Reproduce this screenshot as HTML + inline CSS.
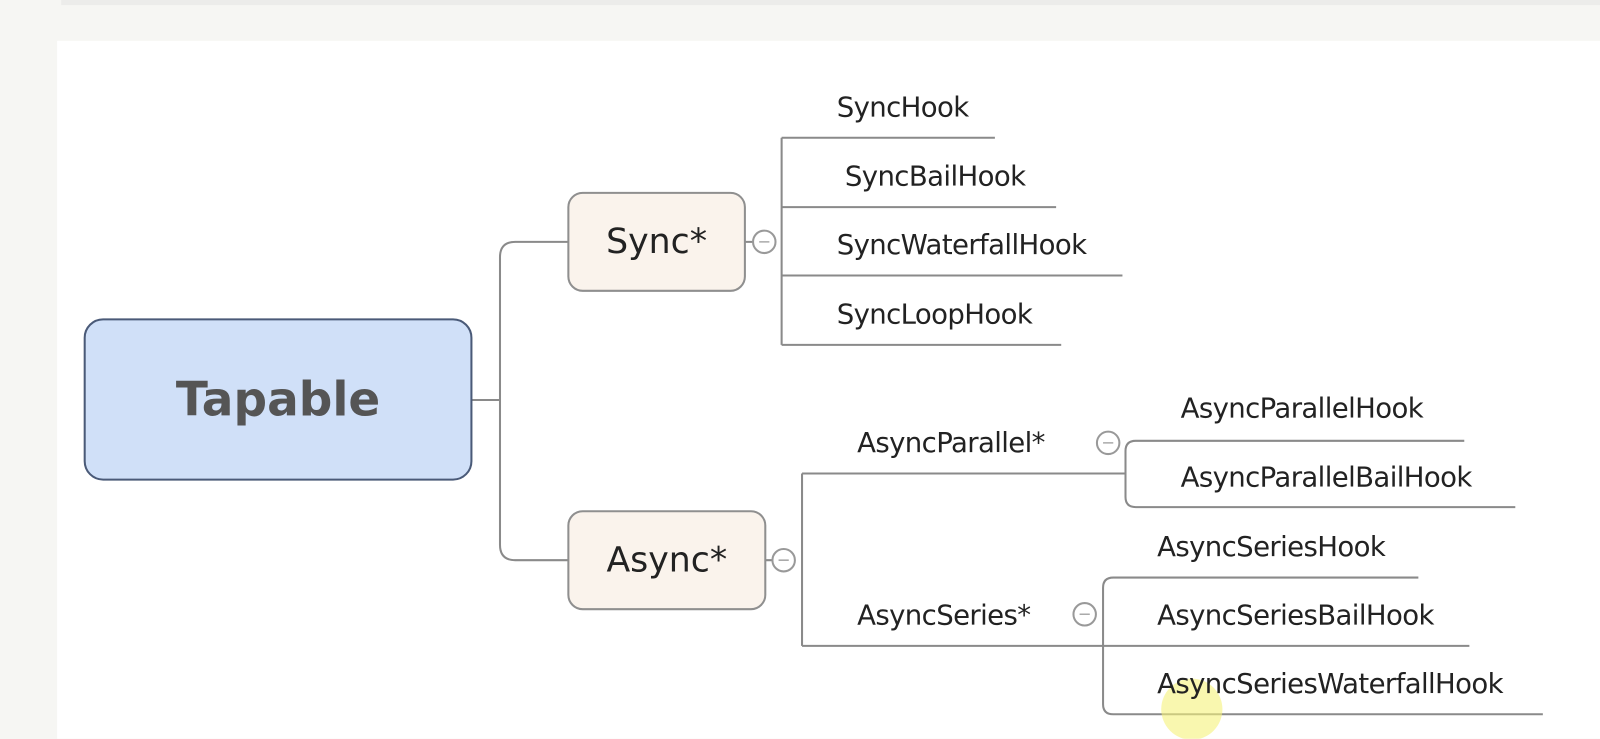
<!DOCTYPE html>
<html><head><style>
body{margin:0;width:1600px;height:724px;background:#f6f6f3;overflow:hidden;font-family:"DejaVu Sans","Liberation Sans",sans-serif;}
#w{position:absolute;left:0;top:0;width:1568px;height:710px;transform:scale(1.0204);transform-origin:0 0;}
.panel{position:absolute;left:56px;top:40px;width:1544px;height:684px;background:#fff;}
.t{position:absolute;font-size:27px;color:#222;white-space:nowrap;letter-spacing:-0.6px}
</style></head><body><div id="w">
<div style="position:absolute;left:60px;top:0;width:1540px;height:5px;background:#ececea"></div>
<div class="panel"></div>
<svg width="1600" height="724" style="position:absolute;left:0;top:0">
<g fill="none" stroke="#8a8a8a" stroke-width="2">
<path d="M462 392H490"/>
<path d="M557 237H505Q490 237 490 252V534Q490 549 505 549H557"/>
<path d="M766 135V338M766 135H975M766 203H1035M766 270H1100M766 338H1040"/>
<path d="M786 464V633M786 464H1103M786 633H1440"/>
<path d="M1435 432H1113Q1103 432 1103 442V487Q1103 497 1113 497H1485"/>
<path d="M1390 566H1091Q1081 566 1081 576V690Q1081 700 1091 700H1512"/>
<path d="M730 237H738M750 549H757"/>
</g>
<rect x="83" y="313" width="379" height="157" rx="18" fill="#d0e0f8" stroke="#4a5a78" stroke-width="2"/>
<rect x="557" y="189" width="173" height="96" rx="14" fill="#faf3ec" stroke="#8f8f8f" stroke-width="2"/>
<rect x="557" y="501" width="193" height="96" rx="14" fill="#faf3ec" stroke="#8f8f8f" stroke-width="2"/>
<g fill="#fff" stroke="#999" stroke-width="2">
<circle cx="749" cy="237" r="11"/><circle cx="768" cy="549" r="11"/>
<circle cx="1086" cy="434" r="11"/><circle cx="1063" cy="602" r="11"/>
</g>
<g stroke="#aaa" stroke-width="1.5">
<path d="M744 237H754M763 549H773M1081 434H1091M1058 602H1068"/>
</g>
<circle cx="1168" cy="695" r="30" fill="#f5f27a" opacity="0.6"/>
</svg>
<div style="position:absolute;left:83px;top:313px;width:379px;height:157px;line-height:157px;text-align:center;font-size:46px;font-weight:bold;color:#555">Tapable</div>
<div style="position:absolute;left:557px;top:189px;width:173px;height:96px;line-height:96px;text-align:center;font-size:34px;color:#222">Sync*</div>
<div style="position:absolute;left:557px;top:501px;width:193px;height:96px;line-height:96px;text-align:center;font-size:34px;color:#222">Async*</div>
<div class="t" style="left:820px;top:90px">SyncHook</div>
<div class="t" style="left:828px;top:158px">SyncBailHook</div>
<div class="t" style="left:820px;top:225px">SyncWaterfallHook</div>
<div class="t" style="left:820px;top:293px">SyncLoopHook</div>
<div class="t" style="left:840px;top:419px">AsyncParallel*</div>
<div class="t" style="left:840px;top:588px">AsyncSeries*</div>
<div class="t" style="left:1157px;top:385px">AsyncParallelHook</div>
<div class="t" style="left:1157px;top:453px">AsyncParallelBailHook</div>
<div class="t" style="left:1134px;top:521px">AsyncSeriesHook</div>
<div class="t" style="left:1134px;top:588px">AsyncSeriesBailHook</div>
<div class="t" style="left:1134px;top:655px">AsyncSeriesWaterfallHook</div>
</div></body></html>
